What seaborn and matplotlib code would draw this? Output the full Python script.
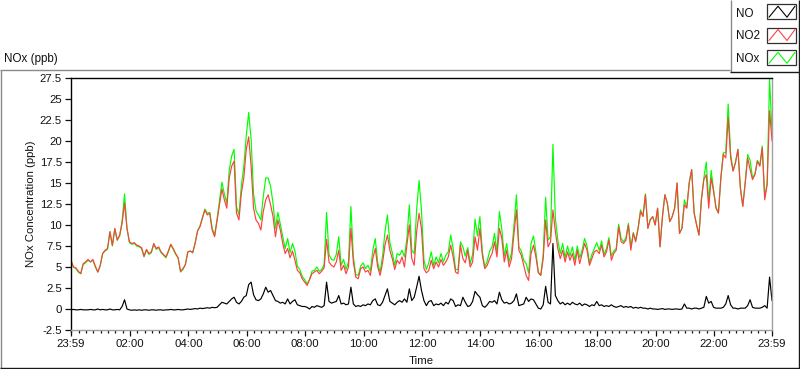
import numpy as np
import pandas as pd
import matplotlib
matplotlib.use("Agg")
import matplotlib.pyplot as plt
from matplotlib.lines import Line2D
from matplotlib.patches import Rectangle
import seaborn as sns

# ---------------- data (5-minute samples, minutes after 23:59) ----------------
minutes = np.arange(0, 1441, 5)

NO = [
    -0.1, -0.05, -0.1, -0.1, -0.05, -0.1, -0.1, -0.1, -0.05, -0.1, -0.1, 0.0,
    -0.1, -0.05, -0.1, -0.1, 0.0, -0.1, -0.1, -0.05, -0.1, 0.3, 1.1, 0.0,
    -0.1, -0.15, -0.1, -0.15, -0.1, -0.15, -0.1, -0.1, -0.15, -0.1, -0.1, -0.15,
    -0.1, -0.1, -0.15, -0.1, -0.1, -0.05, -0.1, -0.1, -0.05, -0.1, -0.1, -0.05,
    0.0, -0.05, 0.0, 0.05, 0.0, 0.1, 0.05, 0.1, 0.15, 0.1, 0.2, 0.15,
    0.2, 0.5, 0.8, 0.7, 0.6, 0.9, 1.2, 1.4, 0.8, 0.6, 0.9, 1.4,
    1.6, 2.9, 3.2, 1.7, 1.1, 1.0, 1.2, 1.8, 2.6, 2.0, 2.2, 1.6,
    1.0, 0.9, 0.7, 0.8, 0.6, 1.2, 0.6, 0.9, 1.1, 0.5, 0.4, 0.3,
    0.3, 0.2, 0.0, 0.3, 0.2, 0.4, 0.3, 0.2, 0.4, 3.2, 0.9, 0.7,
    0.8, 0.9, 1.6, 0.6, 0.7, 0.5, 0.6, 2.6, 0.6, 0.3, 0.4, 0.3,
    0.5, 0.4, 0.6, 0.5, 1.0, 1.2, 0.5, 0.4, 0.8, 1.6, 2.4, 0.9,
    0.7, 0.5, 0.8, 1.0, 0.8, 1.2, 0.8, 2.4, 1.0, 1.4, 2.6, 3.9,
    2.2, 1.0, 0.4, 0.9, 1.0, 0.4, 0.6, 0.5, 0.7, 0.4, 0.8, 0.6,
    1.2, 1.0, 0.3, 0.5, 0.4, 1.4, 0.8, 0.3, 0.4, 0.9, 2.1, 1.7,
    1.4, 0.4, 0.2, 0.5, 0.9, 0.8, 1.0, 0.6, 2.0, 1.1, 0.7, 0.8,
    0.6, 0.7, 1.0, 1.8, 0.4, 0.5, 0.6, 1.4, 0.9, 1.2, 1.1, 0.6,
    0.1, 0.0, 0.5, 2.7, 0.8, 0.6, 7.8, 1.6, 1.0, 0.6, 0.8, 0.5,
    0.7, 0.5, 0.8, 0.6, 0.5, 0.7, 0.4, 0.6, 0.5, 0.3, 0.5, 0.4,
    0.9, 0.4, 0.5, 0.3, 0.4, 0.3, 0.5, 0.3, 0.2, 0.3, 0.4, 0.2,
    0.3, 0.2, 0.3, 0.1, 0.2, 0.1, 0.2, 0.1, 0.1, 0.0, 0.1, 0.0,
    0.0, -0.05, 0.0, 0.05, -0.05, 0.0, 0.0, -0.05, 0.0, 0.0, -0.05, 0.0,
    0.6, 0.1, 0.1, 0.0, 0.1, 0.1, 0.0, 0.1, 0.2, 1.5, 0.7, 0.9,
    0.2, 0.1, 0.1, 0.1, 0.2, 0.6, 1.6, 0.5, 0.1, 0.1, 0.0, 0.1,
    0.1, 0.1, 0.4, 1.1, 0.2, 0.1, 0.1, 0.1, 0.2, 0.4, 0.1, 3.8,
    1.0,
]

NO2 = [
    5.8, 5.0, 4.9, 4.5, 4.2, 5.4, 5.6, 5.9, 5.6, 5.9, 5.1, 4.4,
    5.2, 6.6, 7.0, 7.2, 9.2, 7.6, 9.6, 8.2, 8.8, 10.2, 12.6, 9.6,
    8.0, 7.8, 7.9, 7.6, 7.5, 7.3, 6.3, 7.1, 6.6, 6.8, 7.8, 7.2,
    7.4, 6.8, 6.5, 6.2, 6.9, 7.7, 7.2, 6.6, 6.1, 4.5, 4.8, 5.3,
    6.8, 6.9, 6.7, 7.8, 9.3, 9.8, 10.8, 11.8, 11.2, 11.4, 9.4, 8.6,
    10.5, 12.4, 14.3, 13.0, 12.0, 15.6, 17.0, 17.6, 11.4, 10.6, 13.8, 15.6,
    19.0, 20.5, 17.0, 12.0, 10.6, 10.2, 9.4, 11.6, 13.0, 13.6, 12.4, 11.0,
    8.6, 10.6, 9.4, 7.8, 6.6, 7.2, 6.1, 6.9, 5.8, 4.6, 4.3, 3.6,
    3.2, 2.8, 3.5, 4.2, 4.4, 4.6, 4.2, 4.5, 4.9, 8.3, 5.6, 5.2,
    5.0, 5.6, 7.0, 4.6, 5.2, 4.2, 5.0, 9.6, 5.6, 3.8, 3.6, 4.8,
    5.0, 4.4, 4.6, 4.0, 6.0, 7.2, 5.0, 4.0, 5.5, 7.6, 8.8, 7.0,
    6.0, 4.7, 5.8, 5.4, 6.2, 5.0, 7.6, 10.0, 6.0, 5.2, 9.2, 11.4,
    9.5, 4.8, 4.3, 4.6, 5.8, 4.8, 5.6, 5.0, 5.9, 5.2, 5.6, 6.2,
    7.6, 6.2, 4.4, 4.2, 7.6, 6.0, 5.5, 7.0, 5.0, 5.6, 8.6, 7.0,
    9.6, 6.4, 4.8, 5.2, 6.0, 6.6, 8.0, 6.2, 9.6, 8.4, 5.6, 7.0,
    5.0, 6.0, 9.0, 11.8, 7.0, 6.4, 5.2, 4.0, 3.4, 6.6, 7.6, 6.2,
    4.3, 4.0, 6.0, 10.6, 7.4, 8.0, 11.8, 9.2, 7.2, 6.0, 7.0, 5.6,
    6.8, 5.8, 6.6, 5.2, 7.0, 5.4, 6.6, 7.8, 7.0, 5.2, 6.0, 6.8,
    7.0, 6.6, 7.6, 6.2, 6.8, 8.2, 5.8, 6.6, 7.0, 9.8, 8.0, 7.8,
    8.2, 10.0, 7.0, 9.0, 8.0, 9.6, 11.6, 11.0, 13.6, 9.6, 10.6, 11.0,
    10.0, 12.0, 7.4, 11.0, 13.6, 12.6, 10.4, 11.0, 12.0, 15.0, 9.0, 9.6,
    12.4, 12.0, 15.0, 16.6, 11.4, 10.0, 8.8, 13.0, 15.4, 16.0, 12.0, 15.6,
    14.0, 12.0, 11.4, 15.6, 18.4, 18.0, 22.8, 18.0, 16.4, 17.4, 19.0, 14.4,
    12.2, 15.0, 18.0, 16.6, 15.4, 16.0, 17.6, 17.0, 19.2, 13.0, 14.8, 23.6,
    20.0,
]

NOx = [
    5.7, 5.0, 4.8, 4.4, 4.2, 5.3, 5.5, 5.8, 5.6, 5.8, 5.0, 4.4,
    5.1, 6.6, 6.9, 7.1, 9.2, 7.5, 9.5, 8.2, 8.7, 10.5, 13.7, 9.6,
    7.9, 7.7, 7.8, 7.5, 7.4, 7.2, 6.2, 7.0, 6.5, 6.7, 7.7, 7.1,
    7.3, 6.7, 6.4, 6.1, 6.8, 7.7, 7.1, 6.5, 6.1, 4.4, 4.7, 5.3,
    6.8, 6.9, 6.7, 7.9, 9.3, 9.9, 10.9, 11.9, 11.4, 11.5, 9.6, 8.8,
    10.7, 12.9, 15.1, 13.7, 12.6, 16.5, 18.2, 19.0, 12.2, 11.2, 14.7, 17.0,
    20.6, 23.4, 20.2, 13.7, 11.7, 11.2, 10.6, 13.4, 15.6, 15.6, 14.6, 12.6,
    9.6, 11.5, 10.1, 8.6, 7.2, 8.4, 6.7, 7.8, 6.9, 5.1, 4.7, 3.9,
    3.5, 3.0, 3.5, 4.5, 4.6, 5.0, 4.5, 4.7, 5.3, 11.5, 6.5, 5.9,
    5.8, 6.5, 8.6, 5.2, 5.9, 4.7, 5.6, 12.2, 6.2, 4.1, 4.0, 5.1,
    5.5, 4.8, 5.2, 4.5, 7.0, 8.4, 5.5, 4.4, 6.3, 9.2, 11.2, 7.9,
    6.7, 5.2, 6.6, 6.4, 7.0, 6.2, 8.4, 12.4, 7.0, 6.6, 11.8, 15.3,
    11.7, 5.8, 4.7, 5.5, 6.8, 5.2, 6.2, 5.5, 6.6, 5.6, 6.4, 6.8,
    8.8, 7.2, 4.7, 4.7, 8.0, 7.4, 6.3, 7.3, 5.4, 6.5, 10.7, 8.7,
    11.0, 6.8, 5.0, 5.7, 6.9, 7.4, 9.0, 6.8, 11.6, 9.5, 6.3, 7.8,
    5.6, 6.7, 10.0, 13.6, 7.4, 6.9, 5.8, 5.4, 4.3, 7.8, 8.7, 6.8,
    4.4, 4.0, 6.5, 13.3, 8.2, 8.6, 19.6, 10.8, 8.2, 6.6, 7.8, 6.1,
    7.5, 6.3, 7.4, 5.8, 7.5, 6.1, 7.0, 8.4, 7.5, 5.5, 6.5, 7.2,
    7.9, 7.0, 8.1, 6.5, 7.2, 8.5, 6.3, 6.9, 7.2, 10.1, 8.4, 8.0,
    8.5, 10.2, 7.3, 9.1, 8.2, 9.7, 11.8, 11.1, 13.7, 9.6, 10.7, 11.0,
    10.0, 12.0, 7.4, 11.1, 13.6, 12.6, 10.4, 11.0, 12.0, 15.0, 9.0, 9.6,
    13.0, 12.1, 15.1, 16.6, 11.5, 10.1, 8.8, 13.1, 15.6, 17.5, 12.7, 16.5,
    14.2, 12.1, 11.5, 15.7, 18.6, 18.6, 24.4, 18.5, 16.5, 17.5, 19.0, 14.5,
    12.3, 15.1, 18.4, 17.7, 15.6, 16.1, 17.7, 17.1, 19.4, 13.4, 14.9, 27.4,
    21.0,
]

series_names = ["NO", "NO2", "NOx"]
series_colors = {"NO": "#000000", "NO2": "#ff4040", "NOx": "#00ff00"}

major_tick_minutes = [0, 121, 241, 361, 481, 601, 721, 841, 961, 1081, 1201, 1321, 1440]
major_tick_labels = ["23:59", "02:00", "04:00", "06:00", "08:00", "10:00", "12:00",
                     "14:00", "16:00", "18:00", "20:00", "22:00", "23:59"]
y_ticks = [-2.5, 0, 2.5, 5, 7.5, 10, 12.5, 15, 17.5, 20, 22.5, 25, 27.5]

df = pd.DataFrame({"minutes": minutes, "NO": NO, "NO2": NO2, "NOx": NOx})

# ---------------- style ----------------
sns.set_style("white")
plt.rcParams["font.family"] = ["Liberation Sans", "DejaVu Sans"]
plt.rcParams["axes.unicode_minus"] = False

W, H = 800, 369
fig = plt.figure(figsize=(W / 100, H / 100), dpi=100)
fig.patch.set_facecolor("white")

def fx(px):
    return px / W

def fy(py):
    return 1 - py / H

L, R, T, B = 71, 772, 78, 330
ax = fig.add_axes([fx(L), fy(B), (R - L) / W, (B - T) / H])
ax.set_facecolor("white")

for name in ["NOx", "NO2", "NO"]:
    sns.lineplot(data=df, x="minutes", y=name, color=series_colors[name],
                 linewidth=0.85, ax=ax, legend=False, errorbar=None)

ax.set_xlim(0, 1440)
ax.set_ylim(-2.5, 27.5)
ax.set_xlabel("")
ax.set_ylabel("")

ax.set_xticks(major_tick_minutes)
ax.set_xticklabels(major_tick_labels)
minor = [m for m in range(1, 1440, 15) if m not in major_tick_minutes]
ax.set_xticks(minor, minor=True)
ax.set_yticks(y_ticks)
ax.set_yticklabels([f"{v:g}" for v in y_ticks])

ax.tick_params(axis="x", which="major", length=4.5, width=0.9, direction="out",
               pad=2.0, labelsize=8.2, colors="#111111", bottom=True)
ax.tick_params(axis="x", which="minor", length=2.5, width=0.9, direction="out",
               colors="#111111", bottom=True)
ax.tick_params(axis="y", which="major", length=4, width=0.9, direction="out",
               pad=2.5, labelsize=8.2, colors="#111111", left=True)

for side in ["top", "left"]:
    ax.spines[side].set_color("black")
    ax.spines[side].set_linewidth(1.0)
for side in ["right", "bottom"]:
    ax.spines[side].set_color("#a0a0a0")
    ax.spines[side].set_linewidth(1.0)
    ax.spines[side].set_visible(True)

# axis titles
fig.text(fx(421.5), fy(361), "Time", ha="center", va="center", fontsize=8.2, color="#111111")
fig.text(fx(31), fy(204), "NOx Concentration (ppb)", ha="center", va="center",
         rotation=90, fontsize=8.2, color="#111111")
fig.text(fx(4), fy(59), "NOx (ppb)", ha="left", va="center", fontsize=8.4, color="#111111")

# panel frame
def fline(x1, y1, x2, y2, color, lw=1.0):
    fig.add_artist(Line2D([fx(x1), fx(x2)], [fy(y1), fy(y2)], color=color,
                          linewidth=lw, transform=fig.transFigure, solid_capstyle="butt"))

fline(0, 69.5, 730, 69.5, "#8a8a8a")
fline(0.6, 69.5, 0.6, 369, "#8a8a8a")
fline(0, 368.3, 800, 368.3, "#1a1a1a")
fline(799.3, 0, 799.3, 369, "#1a1a1a")
# legend box
fline(730.5, 0, 730.5, 72, "#8a8a8a")
fline(730, 71.7, 800, 71.7, "#1a1a1a")

# legend entries
legend_rows = [(14, 11.7), (36, 35.0), (59, 57.8)]
for name, (ty, by) in zip(series_names, legend_rows):
    fig.text(fx(736), fy(ty), name, ha="left", va="center", fontsize=8.4, color="#111111")
    fig.add_artist(Rectangle((fx(767), fy(by + 7.5)), 29 / W, 15 / H,
                             transform=fig.transFigure, facecolor="white",
                             edgecolor="#303030", linewidth=0.9))
    zx = [769, 778, 787, 795]
    zy = [by + 5.5, by - 5.5, by + 5.5, by - 5.5]
    fig.add_artist(Line2D([fx(v) for v in zx], [fy(v) for v in zy],
                          color=series_colors[name], linewidth=0.8,
                          transform=fig.transFigure))

fig.savefig("out.png", dpi=100, facecolor="white")
